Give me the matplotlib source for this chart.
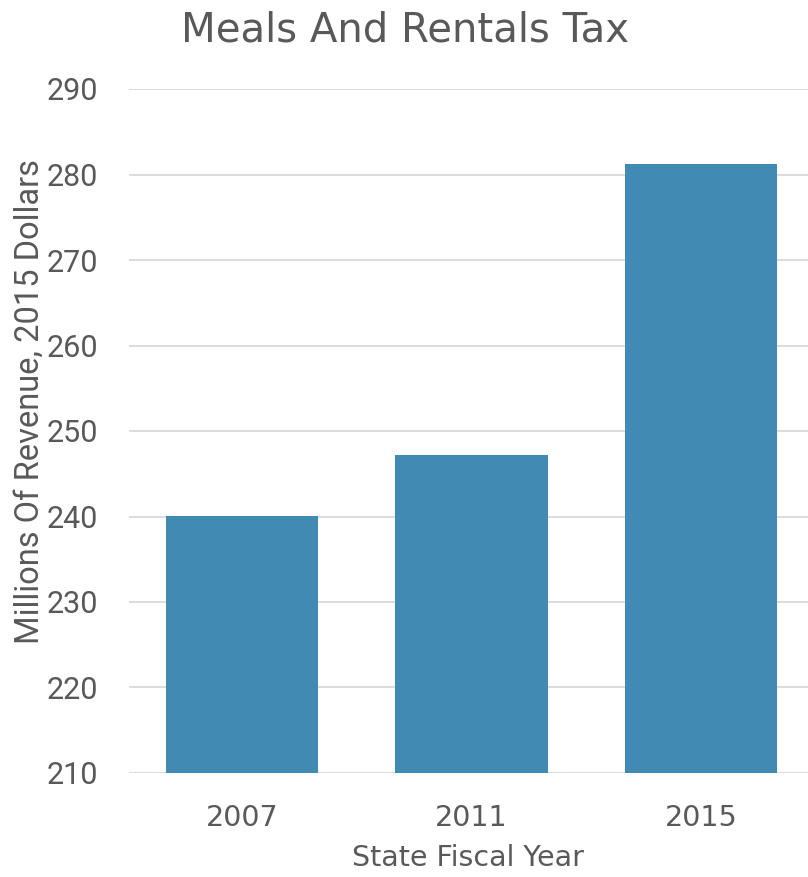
import matplotlib
matplotlib.use("Agg")
import matplotlib.pyplot as plt

years = ["2007", "2011", "2015"]
revenue = [240.1, 247.2, 281.2]
yticks = [210, 220, 230, 240, 250, 260, 270, 280, 290]

W, H = 808, 877
fig = plt.figure(figsize=(W / 100, H / 100), dpi=100)
ax = fig.add_axes([129 / W, (H - 773) / H, (W - 129) / W, (773 - 89) / H])

text_color = "#595959"
bar_color = "#418ab3"
grid_color = "#d9d9d9"

x = list(range(len(years)))
ax.bar(x, revenue, width=0.664, color=bar_color, zorder=3)
ax.set_xlim(-0.493, 2.467)
ax.set_ylim(210, 290)
ax.set_yticks(yticks)
ax.set_xticks(x)
ax.set_xticklabels(years, family="DejaVu Sans", fontsize=20.5, color=text_color)
ax.set_yticklabels([str(t) for t in yticks], family="Roboto", fontsize=22, color=text_color)
ax.tick_params(axis="y", length=0, pad=22)
ax.tick_params(axis="x", length=0, pad=22)
ax.grid(axis="y", color=grid_color, linewidth=1.3, zorder=0)
for s in ax.spines.values():
    s.set_visible(False)

ax.set_xlabel("State Fiscal Year", family="DejaVu Sans", fontsize=20.5, color=text_color, labelpad=9)
fig.text(30 / W, 1 - 402 / H, "Millions Of Revenue, 2015 Dollars", rotation=90,
         ha="center", va="center", family="Roboto", fontsize=23.5, color=text_color)
fig.text(405 / W, 1 - 31 / H, "Meals And Rentals Tax", ha="center", va="center",
         family="DejaVu Sans", fontsize=29, color=text_color)

fig.savefig("out.png", dpi=100)
